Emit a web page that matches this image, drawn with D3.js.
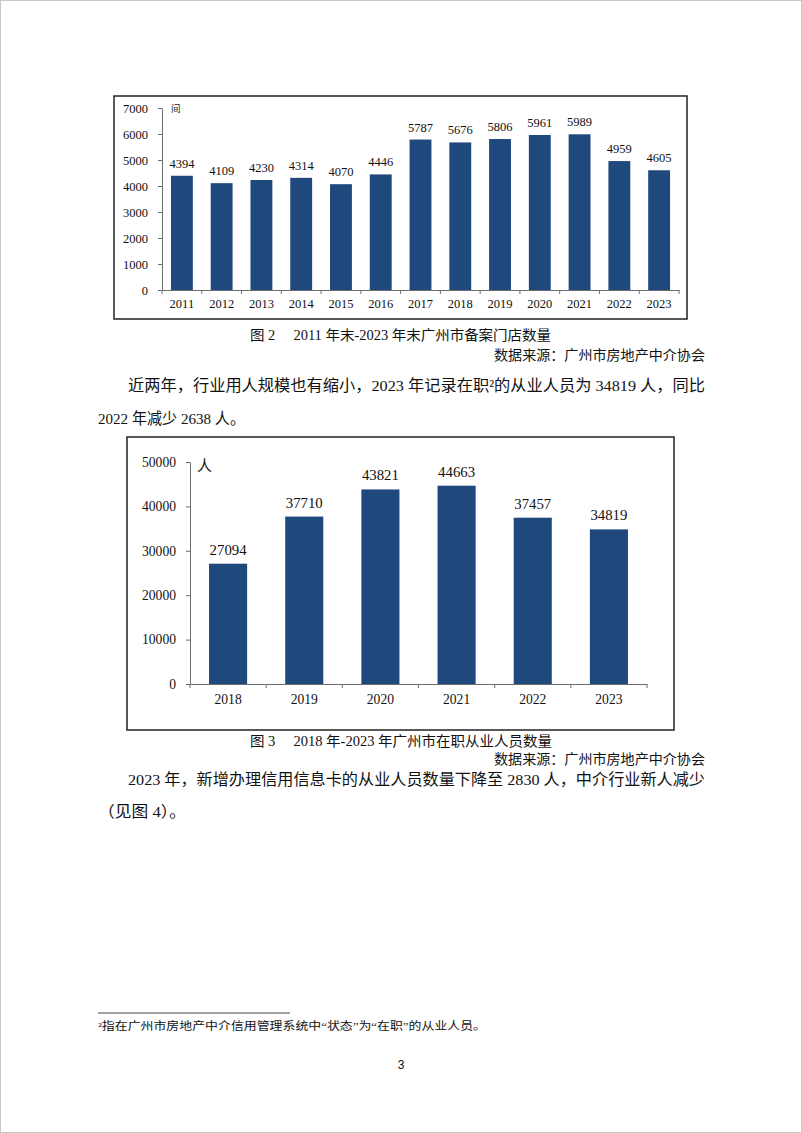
<!DOCTYPE html>
<html><head><meta charset="utf-8">
<script src="https://cdn.jsdelivr.net/npm/d3@7"></script>
<style>
html,body{margin:0;padding:0;background:#fff;}
svg{display:block;}
</style></head>
<body>
<script>
// ---- data ----
const years1 = ["2011","2012","2013","2014","2015","2016","2017","2018","2019","2020","2021","2022","2023"];
const stores = [4394,4109,4230,4314,4070,4446,5787,5676,5806,5961,5989,4959,4605];
const yTicks1 = [0,1000,2000,3000,4000,5000,6000,7000];
const unit1 = "间";

const years2 = ["2018","2019","2020","2021","2022","2023"];
const staff = [27094,37710,43821,44663,37457,34819];
const yTicks2 = [0,10000,20000,30000,40000,50000];
const unit2 = "人";

const caption1 = "图 2\u2003 2011 年末-2023 年末广州市备案门店数量";
const caption2 = "图 3\u2003 2018 年-2023 年广州市在职从业人员数量";
const source = "数据来源：广州市房地产中介协会";

const FONT = "'Liberation Serif','Times New Roman','Noto Sans CJK SC',serif";
const BAR = "#1f497d";
const AX = "#6e6e6e";

const svg = d3.select("body").append("svg").attr("width",802).attr("height",1133);
svg.append("rect").attr("x",0.5).attr("y",0.5).attr("width",801).attr("height",1132)
  .attr("fill","#fff").attr("stroke","#c8c8c8");

function barChart(cfg){
  const g = svg.append("g");
  g.append("rect").attr("x",cfg.frame[0]).attr("y",cfg.frame[1])
    .attr("width",cfg.frame[2]-cfg.frame[0]).attr("height",cfg.frame[3]-cfg.frame[1])
    .attr("fill","none").attr("stroke","#222").attr("stroke-width",1.5);
  const x = d3.scaleBand().domain(cfg.cats).range(cfg.xr)
    .paddingInner(cfg.pad).paddingOuter(cfg.pad/2);
  const y = d3.scaleLinear().domain([0,cfg.max]).range(cfg.yr);
  // bars
  g.selectAll("rect.bar").data(cfg.vals).enter().append("rect").attr("class","bar")
    .attr("x",(d,i)=>x(cfg.cats[i])).attr("width",x.bandwidth())
    .attr("y",d=>y(d)).attr("height",d=>y(0)-y(d)).attr("fill",BAR);
  // value labels
  g.selectAll("text.val").data(cfg.vals).enter().append("text").attr("class","val")
    .attr("x",(d,i)=>x(cfg.cats[i])+x.bandwidth()/2).attr("y",d=>y(d)-cfg.valOff)
    .attr("text-anchor","middle").attr("font-family",FONT).attr("font-size",cfg.valSize)
    .attr("fill","#111").text(d=>d);
  // y axis
  const ya = g.append("g").attr("transform",`translate(${cfg.xr[0]},0)`)
    .call(d3.axisLeft(y).tickValues(cfg.ticks).tickSize(4).tickSizeOuter(0).tickPadding(cfg.yPad).tickFormat(d3.format("d")));
  ya.select(".domain").attr("stroke",AX);
  ya.selectAll(".tick line").attr("stroke",AX);
  ya.selectAll("text").attr("font-family",FONT).attr("font-size",cfg.tickSize).attr("fill","#111");
  // x axis
  const xa = g.append("g").attr("transform",`translate(0,${cfg.yr[0]})`)
    .call(d3.axisBottom(x).tickSize(0).tickPadding(cfg.xPad));
  xa.select(".domain").attr("stroke",AX);
  xa.selectAll("text").attr("font-family",FONT).attr("font-size",cfg.tickSize).attr("fill","#111");
  // category boundary ticks
  const bounds = cfg.cats.map(c=>x(c)-x.step()*x.paddingInner()/2).concat([cfg.xr[1]]);
  xa.selectAll("line.bt").data(bounds).enter().append("line").attr("class","bt")
    .attr("x1",d=>d).attr("x2",d=>d).attr("y1",0).attr("y2",4).attr("stroke",AX);
  // unit
  g.append("text").attr("x",cfg.xr[0]+cfg.unitDx).attr("y",y(cfg.max)+cfg.unitDy)
    .attr("font-family","'Noto Sans CJK SC',sans-serif").attr("font-size",cfg.unitSize)
    .attr("fill","#222").text(cfg.unit);
}

barChart({frame:[114,96,687,319], cats:years1, vals:stores, max:7000, ticks:yTicks1,
  xr:[162,679], yr:[290,108], pad:0.45, valOff:8, valSize:12.5, tickSize:12.5,
  yPad:10, xPad:9, unit:unit1, unitDx:9, unitDy:4, unitSize:9.5});

barChart({frame:[127,437,674,730], cats:years2, vals:staff, max:50000, ticks:yTicks2,
  xr:[190,647], yr:[684,462], pad:0.5, valOff:9, valSize:14.8, tickSize:13.6,
  yPad:10, xPad:10, unit:unit2, unitDx:7, unitDy:9, unitSize:15});

// ---- document text ----
const TF = "'Liberation Serif','Noto Sans CJK SC',serif";
function txt(x,y,s,size,opts={}){
  const t = svg.append("text").attr("x",x).attr("y",y).attr("font-family",opts.font||TF)
    .attr("font-size",size).attr("fill","#111").text(s);
  if(opts.anchor) t.attr("text-anchor",opts.anchor);
  if(opts.len){ t.attr("textLength",opts.len).attr("lengthAdjust","spacingAndGlyphs"); }
  return t;
}
txt(250,340,caption1,14,{len:301});
txt(705,360,source,13.5,{anchor:"end",len:211});
txt(128,391,"近两年，行业用人规模也有缩小，2023 年记录在职²的从业人员为 34819 人，同比",15.5,{len:577});
txt(98,424,"2022 年减少 2638 人。",15.5,{len:147});
txt(250,746,caption2,14,{len:302});
txt(705,764,source,13.5,{anchor:"end",len:211});
txt(128,785,"2023 年，新增办理信用信息卡的从业人员数量下降至 2830 人，中介行业新人减少",15.5,{len:577});
txt(98,817,"（见图 4）。",15.5,{len:88});
svg.append("line").attr("x1",98).attr("x2",290).attr("y1",1013).attr("y2",1013)
  .attr("stroke","#444").attr("stroke-width",1);
txt(98,1030,"²指在广州市房地产中介信用管理系统中“状态”为“在职”的从业人员。",11,{len:388});
txt(401,1069,"3",12,{anchor:"middle",font:"'Liberation Sans','Noto Sans',sans-serif"});
</script>
</body></html>
